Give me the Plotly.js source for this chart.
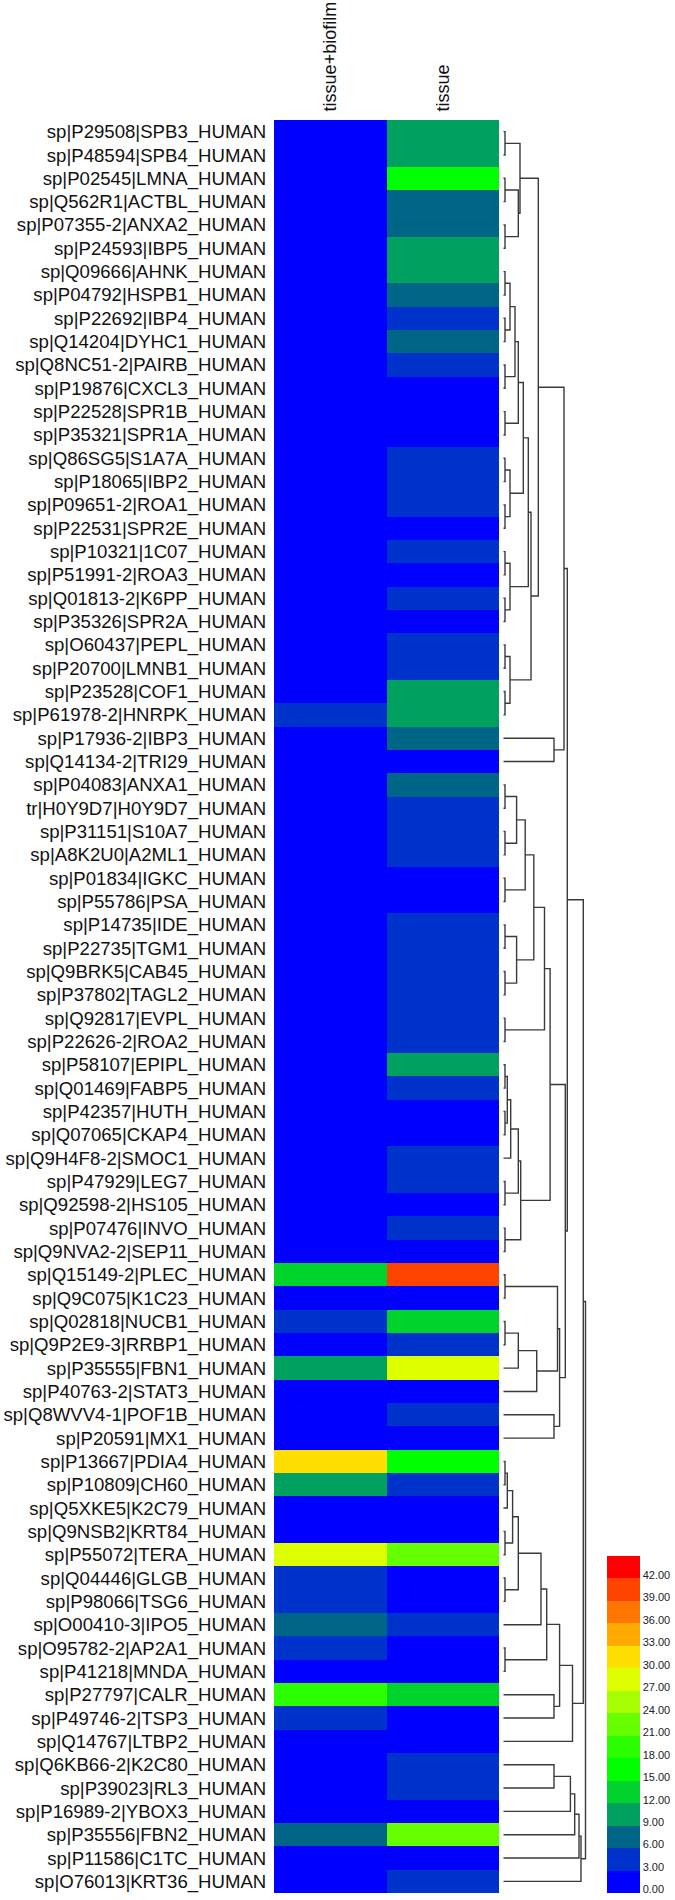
<!DOCTYPE html>
<html>
<head>
<meta charset="utf-8">
<script src="https://cdn.plot.ly/plotly-3.0.1.min.js"></script>
<style>body{margin:0;background:#fff}</style>
</head>
<body>
<div id="chart" style="width:675px;height:1900px"></div>
<script>
const samples = ['tissue+biofilm', 'tissue'];
const proteins = [
  'sp|P29508|SPB3_HUMAN', 'sp|P48594|SPB4_HUMAN', 'sp|P02545|LMNA_HUMAN', 'sp|Q562R1|ACTBL_HUMAN', 'sp|P07355-2|ANXA2_HUMAN',
  'sp|P24593|IBP5_HUMAN', 'sp|Q09666|AHNK_HUMAN', 'sp|P04792|HSPB1_HUMAN', 'sp|P22692|IBP4_HUMAN', 'sp|Q14204|DYHC1_HUMAN',
  'sp|Q8NC51-2|PAIRB_HUMAN', 'sp|P19876|CXCL3_HUMAN', 'sp|P22528|SPR1B_HUMAN', 'sp|P35321|SPR1A_HUMAN', 'sp|Q86SG5|S1A7A_HUMAN',
  'sp|P18065|IBP2_HUMAN', 'sp|P09651-2|ROA1_HUMAN', 'sp|P22531|SPR2E_HUMAN', 'sp|P10321|1C07_HUMAN', 'sp|P51991-2|ROA3_HUMAN',
  'sp|Q01813-2|K6PP_HUMAN', 'sp|P35326|SPR2A_HUMAN', 'sp|O60437|PEPL_HUMAN', 'sp|P20700|LMNB1_HUMAN', 'sp|P23528|COF1_HUMAN',
  'sp|P61978-2|HNRPK_HUMAN', 'sp|P17936-2|IBP3_HUMAN', 'sp|Q14134-2|TRI29_HUMAN', 'sp|P04083|ANXA1_HUMAN', 'tr|H0Y9D7|H0Y9D7_HUMAN',
  'sp|P31151|S10A7_HUMAN', 'sp|A8K2U0|A2ML1_HUMAN', 'sp|P01834|IGKC_HUMAN', 'sp|P55786|PSA_HUMAN', 'sp|P14735|IDE_HUMAN',
  'sp|P22735|TGM1_HUMAN', 'sp|Q9BRK5|CAB45_HUMAN', 'sp|P37802|TAGL2_HUMAN', 'sp|Q92817|EVPL_HUMAN', 'sp|P22626-2|ROA2_HUMAN',
  'sp|P58107|EPIPL_HUMAN', 'sp|Q01469|FABP5_HUMAN', 'sp|P42357|HUTH_HUMAN', 'sp|Q07065|CKAP4_HUMAN', 'sp|Q9H4F8-2|SMOC1_HUMAN',
  'sp|P47929|LEG7_HUMAN', 'sp|Q92598-2|HS105_HUMAN', 'sp|P07476|INVO_HUMAN', 'sp|Q9NVA2-2|SEP11_HUMAN', 'sp|Q15149-2|PLEC_HUMAN',
  'sp|Q9C075|K1C23_HUMAN', 'sp|Q02818|NUCB1_HUMAN', 'sp|Q9P2E9-3|RRBP1_HUMAN', 'sp|P35555|FBN1_HUMAN', 'sp|P40763-2|STAT3_HUMAN',
  'sp|Q8WVV4-1|POF1B_HUMAN', 'sp|P20591|MX1_HUMAN', 'sp|P13667|PDIA4_HUMAN', 'sp|P10809|CH60_HUMAN', 'sp|Q5XKE5|K2C79_HUMAN',
  'sp|Q9NSB2|KRT84_HUMAN', 'sp|P55072|TERA_HUMAN', 'sp|Q04446|GLGB_HUMAN', 'sp|P98066|TSG6_HUMAN', 'sp|O00410-3|IPO5_HUMAN',
  'sp|O95782-2|AP2A1_HUMAN', 'sp|P41218|MNDA_HUMAN', 'sp|P27797|CALR_HUMAN', 'sp|P49746-2|TSP3_HUMAN', 'sp|Q14767|LTBP2_HUMAN',
  'sp|Q6KB66-2|K2C80_HUMAN', 'sp|P39023|RL3_HUMAN', 'sp|P16989-2|YBOX3_HUMAN', 'sp|P35556|FBN2_HUMAN', 'sp|P11586|C1TC_HUMAN',
  'sp|O76013|KRT36_HUMAN'
];

const tissueBiofilm = [
  0, 0, 0, 0, 0, 0, 0, 0, 0, 0,
  0, 0, 0, 0, 0, 0, 0, 0, 0, 0,
  0, 0, 0, 0, 0, 4.5, 0, 0, 0, 0,
  0, 0, 0, 0, 0, 0, 0, 0, 0, 0,
  0, 0, 0, 0, 0, 0, 0, 0, 0, 13.5,
  0, 4.5, 0, 10.5, 0, 0, 0, 31.5, 10.5, 0,
  0, 28.5, 4.5, 4.5, 7.5, 4.5, 0, 19.5, 4.5, 0,
  0, 0, 0, 7.5, 0, 0
];
const tissue = [
  10.5, 10.5, 16.5, 7.5, 7.5, 10.5, 10.5, 7.5, 4.5, 7.5,
  4.5, 0, 0, 0, 4.5, 4.5, 4.5, 0, 4.5, 0,
  4.5, 0, 4.5, 4.5, 10.5, 10.5, 7.5, 0, 7.5, 4.5,
  4.5, 4.5, 0, 0, 4.5, 4.5, 4.5, 4.5, 4.5, 4.5,
  10.5, 4.5, 0, 0, 4.5, 4.5, 0, 4.5, 0, 40.5,
  0, 13.5, 4.5, 28.5, 0, 4.5, 0, 16.5, 4.5, 0,
  0, 22.5, 0, 0, 4.5, 0, 0, 13.5, 0, 0,
  4.5, 4.5, 0, 22.5, 0, 4.5
];

// one colour per 3-unit band, 0 .. 45
const bandColors = [
  '#0000FF', '#0033CC', '#006688', '#00A05E', '#00D42C',
  '#00FF00', '#2CFF00', '#66FF00', '#A6FF00', '#DDFF00',
  '#FFDF00', '#FFAA00', '#FF7700', '#FF4400', '#FF0000'
];
const scaleTicks = [0, 3, 6, 9, 12, 15, 18, 21, 24, 27, 30, 33, 36, 39, 42];

// row clustering: [left, right, distance]; a number is a row index
const clTop = [[0, 1, 1.7], [[2, 3, 1.7], [4, 5, 1.7], 15], 16.7];
const clMid = [[[[[6, 7, 1.7], [8, 9, 1.7], 6.7], [10, 11, 1.7], 11.7], [12, 13, 1.7], 15],
               [[14, 15, 1.7], [16, 17, 1.7], 6.7], 20];
const clMid2 = [[clMid, [[18, 19, 1.7], [20, 21, 1.7], 6.7], 25], [[22, 23, 1.7], [24, 25, 1.7], 6.7], 27.7];
const clUpper = [[clTop, clMid2, 35], [26, 27, 50.7], 60.7];
const clAnx = [[[[[28, 29, 1.7], [30, 31, 1.7], 13.3], [32, 33, 1.7], 21.9],
               [[34, 35, 1.7], [36, 37, 1.7], 13.3], 30.5], [38, 39, 1.7], 41.2];
const clEpi = [[[[[40, 41, 1.7], [42, 43, 1.7], 4], 44, 7.4], [45, 46, 1.7], 15], [47, 48, 1.7], 17.4];
const clPlec = [[[49, 50, 1.7], [[[51, 52, 1.7], 53, 15], 54, 33.4], 54.2], [55, 56, 50.7], 56.3];
const clCentre = [clUpper, [[clAnx, clEpi, 46.8], clPlec, 62], 64];
const clPdia = [[[[[[[57, 58, 1.7], 59, 4], [60, 61, 1.7], 9.3], [62, 63, 1.7], 15], 64, 37.7],
                [65, 66, 1.7], 43.4], [67, 68, 50.7], 56.3];
const clLow = [clPdia, 69, 69.2];
const clTail = [[[[[70, 71, 50.7], 72, 67.1], 73, 71.4], 74, 75.7], 75, 77.7];
const rowTree = [[clCentre, clLow, 80], clTail, 82.2];

const dx = [], dy = [];
function walk(node) {
  if (typeof node === 'number') return { y: node, h: 0 };
  const a = walk(node[0]), b = walk(node[1]), h = node[2];
  dx.push(a.h, h, h, b.h, null);
  dy.push(a.y, a.y, b.y, b.y, null);
  return { y: (a.y + b.y) / 2, h: h };
}
walk(rowTree);

const rows = proteins.map((_, i) => i);
const z = rows.map(i => [tissueBiofilm[i], tissue[i]]);

const colorscale = [];
bandColors.forEach((c, k) => {
  colorscale.push([k / bandColors.length, c], [(k + 1) / bandColors.length, c]);
});

const heat = {
  type: 'heatmap',
  z: z,
  x: [0, 1],
  y: rows,
  zmin: 0,
  zmax: 45,
  colorscale: colorscale,
  hoverinfo: 'skip',
  colorbar: {
    x: 606.7 / 675, xanchor: 'left',
    y: 6.7 / 1900, yanchor: 'bottom',
    len: 336.6, lenmode: 'pixels',
    thickness: 33, thicknessmode: 'pixels',
    outlinewidth: 0, xpad: 0, ypad: 0,
    tickvals: scaleTicks.map(t => t + 0.5),
    ticktext: scaleTicks.map(t => t.toFixed(2)),
    ticks: '', ticklen: 0,
    tickfont: { size: 11, color: '#222' }
  }
};

const dendro = {
  type: 'scatter',
  mode: 'lines',
  x: dx,
  y: dy,
  xaxis: 'x2',
  yaxis: 'y',
  line: { color: '#3a3a3a', width: 1.4 },
  hoverinfo: 'skip',
  connectgaps: false
};

const layout = {
  width: 675,
  height: 1900,
  margin: { l: 0, r: 0, t: 0, b: 0 },
  paper_bgcolor: '#fff',
  plot_bgcolor: '#fff',
  font: { family: 'Liberation Sans, Arial, sans-serif', color: '#111' },
  showlegend: false,
  xaxis: {
    domain: [274 / 675, 499 / 675],
    range: [-0.5, 1.5],
    side: 'top',
    tickvals: [0, 1],
    ticktext: samples,
    tickangle: -90,
    tickfont: { size: 18 },
    ticks: 'outside', ticklen: 4, tickcolor: 'rgba(0,0,0,0)',
    showgrid: false, zeroline: false, showline: false,
    fixedrange: true
  },
  yaxis: {
    domain: [7 / 1900, 1780 / 1900],
    range: [75.5, -0.5],
    tickvals: rows,
    ticktext: proteins,
    tickfont: { size: 18.6 },
    ticks: 'outside', ticklen: 3, tickcolor: 'rgba(0,0,0,0)',
    showgrid: false, zeroline: false, showline: false,
    fixedrange: true
  },
  xaxis2: {
    domain: [503.3 / 675, 603.3 / 675],
    range: [0, 100],
    anchor: 'y',
    visible: false,
    fixedrange: true
  }
};

Plotly.newPlot('chart', [heat, dendro], layout, { displayModeBar: false, staticPlot: true });
</script>
</body>
</html>
